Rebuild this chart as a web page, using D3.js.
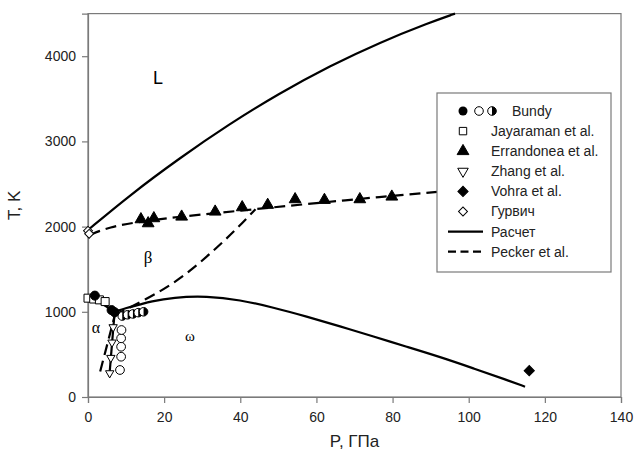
<!DOCTYPE html>
<html><head><meta charset="utf-8">
<script src="https://cdn.jsdelivr.net/npm/d3@7"></script>
<style>body{margin:0;background:#fff}svg{display:block}text{font-family:Arial,"Liberation Sans",sans-serif}</style>
</head><body><svg id="c" width="634" height="458"></svg>
<script>
// ---- data (P in GPa, T in K) ----
const xTicks = [0,20,40,60,80,100,120,140];
const yTicks = [0,1000,2000,3000,4000];
// calculated (solid) curves
const meltP = [0, 11, 24, 37, 50, 63.6, 76.7, 89.8, 96.4];
const meltT = [1960, 2370, 2802, 3200, 3558, 3888, 4163, 4396, 4500];
const bwP = [7, 10, 13.7, 16.3, 22.4, 31.2, 39.9, 48.7, 57.4, 66.2, 75, 83.7, 92.5, 101.2, 110, 114.8];
const bwT = [1000, 1045, 1085, 1120, 1170, 1185, 1140, 1050, 945, 830, 710, 590, 470, 337, 200, 121];
const abP = [0, 3.5, 7];
const abT = [1185, 1100, 1000];
const awP = [7, 6.3, 5.6];
const awT = [1000, 620, 240];
// Pecker et al. (dashed)
const pkMeltP = [0.5, 5, 15.4, 41.7, 68, 91.6, 120];
const pkMeltT = [1900, 1990, 2077, 2195, 2312, 2410, 2510];
const pkBwP = [7, 15.4, 22, 28, 34, 39, 44];
const pkBwT = [960, 1150, 1320, 1520, 1760, 1970, 2205];
const pkAwP = [3.2, 7];
const pkAwT = [300, 950];
// experimental points
const bundyFilledP = [1.8, 6.2, 7.0];
const bundyFilledT = [1190, 1020, 995];
const bundyOpenP = [8.4, 8.7, 8.7, 8.7, 8.8];
const bundyOpenT = [317, 473, 590, 689, 786];
const bundyHalfP = [9.0, 10.4, 11.8, 13.2, 14.6];
const bundyHalfT = [950, 965, 975, 990, 1000];
const jayP = [0, 1.5, 3.0, 4.5];
const jayT = [1160, 1150, 1140, 1120];
const errP = [13.9, 15.8, 17.3, 24.6, 33.4, 40.5, 47.2, 54.4, 62.1, 71.4, 79.8];
const errT = [2085, 2038, 2097, 2116, 2175, 2226, 2254, 2320, 2312, 2320, 2351];
const zhangP = [5.7, 6.0, 6.3, 6.6];
const zhangT = [280, 460, 640, 820];
const vohraP = [115.9];
const vohraT = [309];
const gurP = [0, 0.3];
const gurT = [1950, 1915];
const legendLabels = ["Bundy","Jayaraman et al.","Errandonea et al.","Zhang et al.","Vohra et al.","Гурвич","Расчет","Pecker et al."];

// ---- drawing ----
const svg = d3.select("#c");
const x = d3.scaleLinear().domain([0,140]).range([88,621]);
const y = d3.scaleLinear().domain([0,4500]).range([397,13.6]);
const axisCol = "#7a7a7a";

svg.append("rect").attr("x",x(0)).attr("y",y(4500)).attr("width",x(140)-x(0)).attr("height",y(0)-y(4500))
  .attr("fill","none").attr("stroke",axisCol).attr("stroke-width",1.2);

const gx = svg.append("g").attr("transform",`translate(0,${y(0)})`)
  .call(d3.axisBottom(x).tickValues(xTicks).tickSize(6).tickPadding(9).tickFormat(d3.format("d")));
const gy = svg.append("g").attr("transform",`translate(${x(0)},0)`)
  .call(d3.axisLeft(y).tickValues(yTicks).tickSize(6).tickPadding(6).tickFormat(d3.format("d")));
[gx,gy].forEach(g=>{
  g.select(".domain").attr("stroke",axisCol).attr("stroke-width",1.2);
  g.selectAll(".tick line").attr("stroke",axisCol).attr("stroke-width",1.2);
  g.selectAll(".tick text").attr("fill","#222").style("font-size","14px").style("font-family","Arial, 'Liberation Sans', sans-serif");
});

svg.append("text").attr("x",(x(0)+x(140))/2).attr("y",447).attr("text-anchor","middle")
  .style("font-size","17px").attr("fill","#222").text("P, ГПа");
svg.append("text").attr("transform",`translate(20,${(y(0)+y(4500))/2}) rotate(-90)`).attr("text-anchor","middle")
  .style("font-size","17px").attr("fill","#222").text("T, K");

const zip = (P,T)=>P.map((p,i)=>[p,T[i]]);
const lineB = d3.line().x(d=>x(d[0])).y(d=>y(d[1])).curve(d3.curveBasis);
const lineL = d3.line().x(d=>x(d[0])).y(d=>y(d[1]));
const plot = svg.append("g");
function path(data, gen, dashed){
  plot.append("path").attr("d",gen(data)).attr("fill","none").attr("stroke","#000")
    .attr("stroke-width",2.2).attr("stroke-dasharray",dashed?"11,6":null);
}
path(zip(pkMeltP,pkMeltT), lineB, true);
path(zip(pkBwP,pkBwT), lineB, true);
path(zip(pkAwP,pkAwT), lineL, true);
path(zip(meltP,meltT), lineB, false);
path(zip(bwP,bwT), lineB, false);
path(zip(abP,abT), lineL, false);
path(zip(awP,awT), lineL, false);

function markers(P,T,type,size,fill,rot){
  plot.selectAll(null).data(zip(P,T)).join("path")
    .attr("d",d3.symbol().type(type).size(size)())
    .attr("transform",d=>`translate(${x(d[0])},${y(d[1])}) rotate(${rot||0})`)
    .attr("fill",fill).attr("stroke","#000").attr("stroke-width",1);
}
function halfCircle(cx,cy,r){
  const g = plot.append("g").attr("transform",`translate(${cx},${cy})`);
  g.append("circle").attr("r",r).attr("fill","#fff").attr("stroke","#000").attr("stroke-width",1);
  g.append("path").attr("d",`M0,${-r}A${r},${r} 0 0 1 0,${r}Z`).attr("fill","#000");
}
markers(jayP,jayT,d3.symbolSquare,64,"#fff");
markers(zhangP,zhangT,d3.symbolTriangle,30,"#fff",180);
markers(bundyOpenP,bundyOpenT,d3.symbolCircle,60,"#fff");
bundyHalfP.forEach((p,i)=>halfCircle(x(p),y(bundyHalfT[i]),4.3));
markers(bundyFilledP,bundyFilledT,d3.symbolCircle,64,"#000");
markers(errP,errT,d3.symbolTriangle,60,"#000");
markers(vohraP,vohraT,d3.symbolSquare,52,"#000",45);
markers(gurP,gurT,d3.symbolSquare,40,"#fff",45);

// region labels
svg.append("text").attr("x",158).attr("y",84).attr("text-anchor","middle").style("font-size","18px").text("L");
svg.append("text").attr("x",148).attr("y",263).attr("text-anchor","middle").style("font-family","'Liberation Serif','Times New Roman',serif").style("font-size","17px").text("β");
svg.append("text").attr("x",96).attr("y",333).attr("text-anchor","middle").style("font-family","'Liberation Serif','Times New Roman',serif").style("font-size","16px").text("α");
svg.append("text").attr("x",190).attr("y",341).attr("text-anchor","middle").style("font-family","'Liberation Serif','Times New Roman',serif").style("font-size","15px").text("ω");

// legend
const lg = svg.append("g");
lg.append("rect").attr("x",437).attr("y",93).attr("width",174).attr("height",179)
  .attr("fill","#fff").attr("stroke",axisCol).attr("stroke-width",1.2);
const rowY = i=>111+i*20.1;
const sx = 463;
legendLabels.forEach((t,i)=>{
  lg.append("text").attr("x", i===0?512:491).attr("y",rowY(i)).attr("dy","0.35em")
    .style("font-size","14px").attr("fill","#222").text(t);
});
const lsym = (type,fill,i,rot,size)=>lg.append("path").attr("d",d3.symbol().type(type).size(size||60)())
  .attr("transform",`translate(${sx},${rowY(i)}) rotate(${rot||0})`).attr("fill",fill).attr("stroke","#000").attr("stroke-width",1);
lg.append("circle").attr("cx",463).attr("cy",rowY(0)).attr("r",4.5).attr("fill","#000");
lg.append("circle").attr("cx",479).attr("cy",rowY(0)).attr("r",4.3).attr("fill","#fff").attr("stroke","#000");
{ const g=lg.append("g").attr("transform",`translate(492,${rowY(0)})`);
  g.append("circle").attr("r",4.3).attr("fill","#fff").attr("stroke","#000");
  g.append("path").attr("d","M0,-4.3A4.3,4.3 0 0 1 0,4.3Z").attr("fill","#000"); }
lsym(d3.symbolSquare,"#fff",1,0,55);
lsym(d3.symbolTriangle,"#000",2,0,60);
lsym(d3.symbolTriangle,"#fff",3,180,48);
lsym(d3.symbolSquare,"#000",4,45,52);
lsym(d3.symbolSquare,"#fff",5,45,40);
lg.append("line").attr("x1",448).attr("x2",483).attr("y1",rowY(6)).attr("y2",rowY(6)).attr("stroke","#000").attr("stroke-width",2.2);
lg.append("line").attr("x1",448).attr("x2",483).attr("y1",rowY(7)).attr("y2",rowY(7)).attr("stroke","#000").attr("stroke-width",2.2).attr("stroke-dasharray","8,4.5");
</script></body></html>
